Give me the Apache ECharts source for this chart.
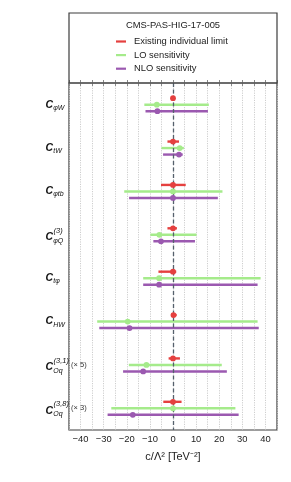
<!DOCTYPE html>
<html><head><meta charset="utf-8">
<script src="https://cdn.jsdelivr.net/npm/echarts@6/dist/echarts.min.js"></script>
<style>html,body{margin:0;padding:0;background:#fff}#c{width:291px;height:482px}</style>
</head><body><div id="c"></div>
<script>
// ---- data ----
const categories = ['CφW', 'CtW', 'Cφtb', 'CφQ(3)', 'Ctφ', 'CHW', 'COq(3,1)', 'COq(3,8)'];
const subscripts = ['φW', 'tW', 'φtb', 'φQ', 'tφ', 'HW', 'Oq', 'Oq'];
const superscripts = ['', '', '', '(3)', '', '', '(3,1)', '(3,8)'];
const scaleNotes = ['', '', '', '', '', '', '(× 5)', '(× 3)'];

const existingCenter = [0, 0, 0, 0, 0, 0.2, 0, 0];
const existingLow    = [-0.3, -2.4, -5.2, -2.4, -6.3, -0.8, -1.9, -4.2];
const existingHigh   = [0.3, 2.6, 5.5, 1.7, 1.4, 1.6, 3.0, 3.7];

const loCenter = [-7.0, 2.9, 0, -5.9, -6.0, -19.6, -11.5, 0];
const loLow    = [-12.4, -5.0, -21.1, -9.8, -12.9, -32.8, -19.1, -26.7];
const loHigh   = [15.5, 4.7, 21.4, 10.2, 37.9, 36.6, 21.1, 27.0];

const nloCenter = [-6.75, 2.6, 0, -5.2, -6.0, -18.8, -12.9, -17.4];
const nloLow    = [-11.9, -4.3, -19.0, -8.5, -12.9, -31.9, -21.6, -28.3];
const nloHigh   = [15.1, 4.2, 19.4, 9.5, 36.6, 37.1, 23.3, 28.4];

const xTicks = [-40, -30, -20, -10, 0, 10, 20, 30, 40];
const legendNames = ['Existing individual limit', 'LO sensitivity', 'NLO sensitivity'];
const titleText = 'CMS-PAS-HIG-17-005';
// ---- style ----
const FONT = '"Liberation Sans", Arial, sans-serif';
const RED = '#e5403f', GREEN = '#a5eb8b', PURPLE = '#9b59b0';
const ROW_OFFSETS = [-0.15, 0, 0.15];

function rows(center, low, high, k) {
  return categories.map((c, i) => [center[i], low[i], high[i], i + 0.5 + ROW_OFFSETS[k]]);
}
function barSeries(name, color, data, z) {
  return {
    type: 'custom', name, color, z, data,
    encode: { x: [1, 2], y: 3 },
    renderItem(params, api) {
      const a = api.coord([api.value(1), api.value(3)]);
      const b = api.coord([api.value(2), api.value(3)]);
      return { type: 'line', shape: { x1: a[0], y1: a[1], x2: b[0], y2: b[1] },
        style: { stroke: color, lineWidth: 2.4 } };
    }
  };
}
function dotSeries(name, color, data, z) {
  return {
    type: 'custom', name, color, z, data,
    encode: { x: 0, y: 3 },
    renderItem(params, api) {
      const p = api.coord([api.value(0), api.value(3)]);
      return { type: 'circle', shape: { cx: p[0], cy: p[1], r: 2.9 }, style: { fill: color } };
    }
  };
}

const redData = rows(existingCenter, existingLow, existingHigh, 0);
const greenData = rows(loCenter, loLow, loHigh, 1);
const purpleData = rows(nloCenter, nloLow, nloHigh, 2);

const chart = echarts.init(document.getElementById('c'), null, { renderer: 'canvas' });
const minus = v => (v < 0 ? '\u2212' + Math.abs(v) : '' + v);
chart.setOption({
  animation: false,
  textStyle: { fontFamily: FONT },
  grid: { left: 69, right: 14, top: 83, bottom: 52, show: true, borderColor: '#3c3c3c', borderWidth: 1.2 },
  legend: {
    data: legendNames,
    orient: 'vertical', left: 116, top: 36, padding: 0, icon: 'rect', itemWidth: 10, itemHeight: 2.2,
    itemGap: 2.6, selectedMode: false,
    textStyle: { fontSize: 9.4, color: '#222', lineHeight: 11, padding: [0, 0, 0, 3], fontFamily: FONT }
  },
  xAxis: [{
    type: 'value', min: -45, max: 45, interval: 5, position: 'bottom',
    name: 'c/Λ² [TeV⁻²]', nameLocation: 'middle', nameGap: 21,
    nameTextStyle: { fontSize: 11, color: '#222', fontFamily: FONT },
    axisLine: { show: false },
    axisTick: { show: true, inside: true, length: 3, lineStyle: { color: '#888' } },
    axisLabel: { fontSize: 9.4, color: '#222', margin: 5,
      formatter: v => (xTicks.indexOf(v) >= 0 ? minus(v) : '') },
    splitLine: { show: true, lineStyle: { color: '#c8c8c8', type: [1.2, 1.2], width: 0.9 } }
  }, {
    type: 'value', min: -45, max: 45, interval: 5, position: 'top',
    axisLine: { show: false }, axisLabel: { show: false }, splitLine: { show: false },
    axisTick: { show: true, inside: true, length: 3, lineStyle: { color: '#888' } }
  }],
  yAxis: { type: 'value', min: 0, max: 8, inverse: true, show: false },
  series: [
    Object.assign(barSeries(legendNames[0], RED, redData, 2), {
      markLine: { silent: true, symbol: 'none', label: { show: false }, z: 3,
        lineStyle: { color: '#55606c', type: [4, 2.5], width: 1.3 }, data: [{ xAxis: 0 }] }
    }),
    barSeries(legendNames[1], GREEN, greenData, 2),
    barSeries(legendNames[2], PURPLE, purpleData, 2),
    dotSeries(legendNames[0], RED, redData, 4),
    dotSeries(legendNames[1], GREEN, greenData, 4),
    dotSeries(legendNames[2], PURPLE, purpleData, 4)
  ]
});

// legend frame, title and row labels (positions from the chart's own scales)
const graphics = [{
  type: 'rect', shape: { x: 69, y: 13, width: 208, height: 70 },
  style: { fill: 'none', stroke: '#3c3c3c', lineWidth: 1.2 }, z: 10
}, {
  type: 'text', z: 10, x: chart.convertToPixel({ xAxisIndex: 0 }, 0), y: 25,
  style: { text: titleText, align: 'center', verticalAlign: 'middle', fontSize: 9.4,
    fontFamily: FONT, fill: '#222' }
}];
categories.forEach((c, i) => {
  const y = chart.convertToPixel({ yAxisIndex: 0 }, i + 0.5);
  const stacked = superscripts[i] !== '';
  const shift = stacked ? 2.5 : 0;
  graphics.push({ type: 'text', z: 10, x: 53, y: y + shift,
    style: { text: 'C', align: 'right', verticalAlign: 'middle', fontSize: 10.5,
      fontWeight: 'bold', fontStyle: 'italic', fontFamily: FONT, fill: '#111' } });
  graphics.push({ type: 'text', z: 10, x: 53.3, y: y + shift + (stacked ? 3.5 : 3),
    style: { text: subscripts[i], align: 'left', verticalAlign: 'middle', fontSize: 7,
      fontStyle: 'italic', fontFamily: FONT, fill: '#111' } });
  if (stacked) {
    graphics.push({ type: 'text', z: 10, x: 53.5, y: y + shift - 6.5,
      style: { text: superscripts[i], align: 'left', verticalAlign: 'middle', fontSize: 7.5,
        fontStyle: 'italic', fontFamily: FONT, fill: '#111' } });
  }
  if (scaleNotes[i]) {
    graphics.push({ type: 'text', z: 10, x: 71, y: y,
      style: { text: scaleNotes[i], align: 'left', verticalAlign: 'middle', fontSize: 7.5,
        fontFamily: FONT, fill: '#333' } });
  }
});
chart.setOption({ graphic: graphics });
</script></body></html>
